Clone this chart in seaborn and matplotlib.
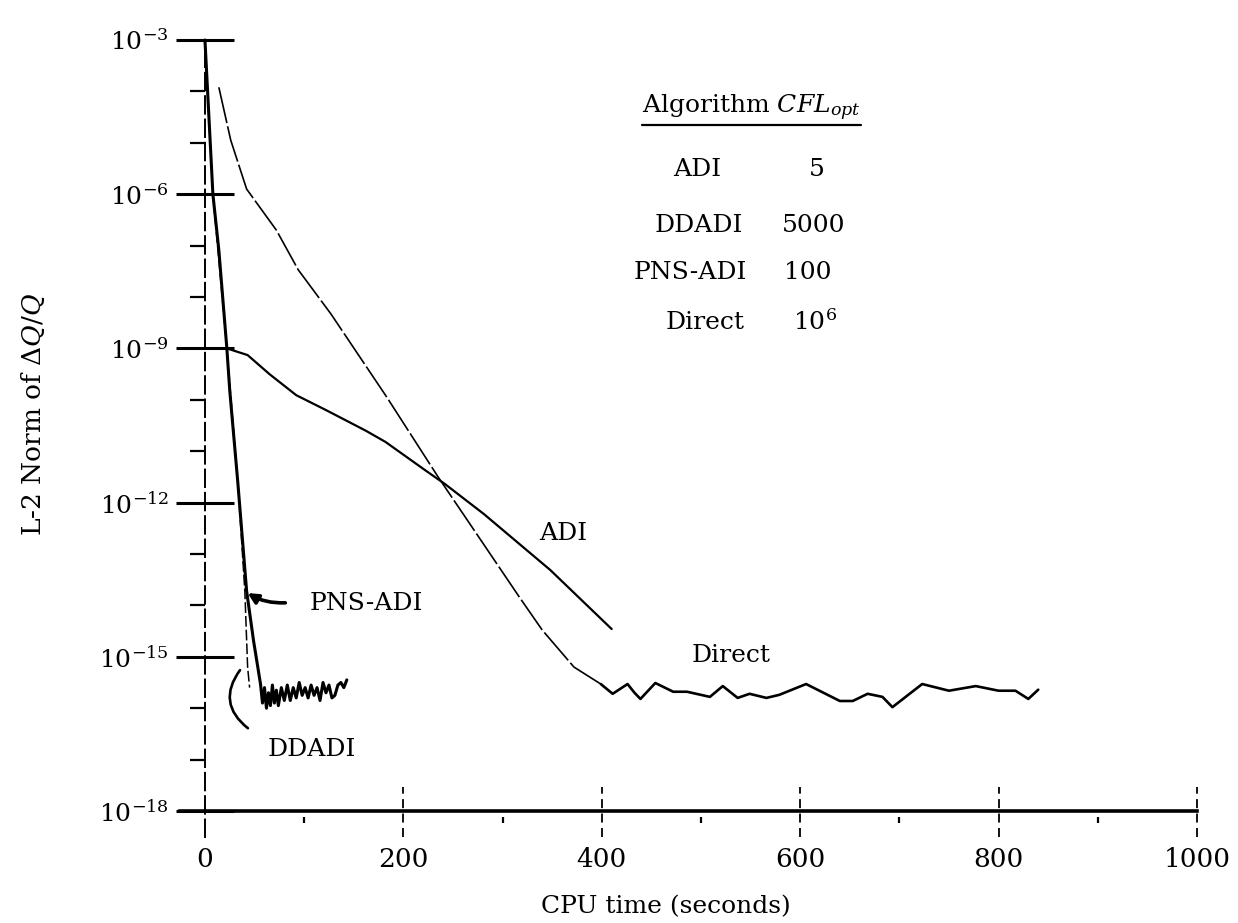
import numpy as np
import pandas as pd
import matplotlib
matplotlib.use("Agg")
import matplotlib.pyplot as plt
from matplotlib.ticker import FixedLocator, FixedFormatter, NullFormatter
import seaborn as sns

# ---- convergence histories: CPU time (s) and log10 of the L2 norm of dQ/Q ----
ADI_TIME = [0, 22, 43, 65, 92, 122, 162, 182, 222, 242, 281, 348, 410]
ADI_LOGRES = [-9.0, -9.0, -9.13, -9.5, -9.91, -10.2, -10.6, -10.82, -11.37,
              -11.64, -12.22, -13.31, -14.46]

DIRECT_TIME = [14, 26, 42, 72, 94, 127, 183, 235, 317, 340, 372, 399,
               411, 426, 433, 439, 454, 472, 486, 509, 522, 537, 549, 566,
               579, 606, 640, 653, 668, 683, 693, 723, 750, 777, 800, 817,
               830, 840]
DIRECT_LOGRES = [-3.92, -4.95, -5.9, -6.7, -7.47, -8.33, -9.94, -11.5, -13.84,
                 -14.48, -15.2, -15.53,
                 -15.72, -15.53, -15.7, -15.82, -15.51, -15.68, -15.68, -15.78,
                 -15.57, -15.8, -15.72, -15.8, -15.74, -15.53, -15.86, -15.86,
                 -15.72, -15.78, -15.98, -15.53, -15.66, -15.57, -15.66, -15.66,
                 -15.82, -15.64]
DIRECT_PLATEAU_START = 399

PNS_TIME = [0, 8, 14, 22, 25, 33, 42, 49, 56, 58, 60, 62, 64, 66, 68, 70, 72,
            74, 77, 80, 83, 86, 89, 92, 95, 98, 101, 104, 107, 110, 113, 116,
            119, 122, 125, 128, 131, 134, 137, 140, 143]
PNS_LOGRES = [-3.0, -6.0, -7.09, -8.98, -9.82, -11.58, -13.72, -14.69, -15.53,
              -15.9, -15.6, -16.0, -15.7, -15.95, -15.55, -15.9, -15.65, -15.95,
              -15.6, -15.85, -15.55, -15.85, -15.6, -15.8, -15.5, -15.75, -15.6,
              -15.8, -15.55, -15.75, -15.6, -15.85, -15.5, -15.7, -15.55, -15.8,
              -15.75, -15.55, -15.5, -15.6, -15.45]

DDADI_TIME = [0, 8, 22, 33, 34.5, 40.2, 43, 45]
DDADI_LOGRES = [-3.0, -6.0, -8.98, -11.58, -12.0, -13.72, -15.2, -15.6]

# ---- optimum CFL numbers ----
ALGORITHMS = ["ADI", "DDADI", "PNS-ADI", "Direct"]
CFL_OPT = ["5", "5000", "100", "$10^6$"]

# ---- axis ticks ----
XTICKS = [0, 200, 400, 600, 800, 1000]
XMINOR = [100, 300, 500, 700, 900]
YTICK_EXP = [-3, -6, -9, -12, -15, -18]
YMINOR_EXP = [-4, -5, -7, -8, -10, -11, -13, -14, -16, -17]


def frame(times, logres):
    return pd.DataFrame({"time": times, "res": 10.0 ** np.asarray(logres)})


adi = frame(ADI_TIME, ADI_LOGRES)
direct = frame(DIRECT_TIME, DIRECT_LOGRES)
pns = frame(PNS_TIME, PNS_LOGRES)
ddadi = frame(DDADI_TIME, DDADI_LOGRES)

sns.set_theme(style="white")
plt.rcParams["font.family"] = ["DejaVu Serif"]
plt.rcParams["mathtext.fontset"] = "dejavuserif"
plt.rcParams["text.color"] = "black"
plt.rcParams["axes.labelcolor"] = "black"
plt.rcParams["xtick.color"] = "black"
plt.rcParams["ytick.color"] = "black"

fig = plt.figure(figsize=(12.38, 9.23), dpi=100)
ax = fig.add_axes([100 / 1238, 73 / 923, 1130 / 1238, 830 / 923])
ax.set_yscale("log")

common = dict(ax=ax, color="black", estimator=None, sort=False, legend=False)
sns.lineplot(data=adi, x="time", y="res", lw=1.6, **common)
desc = direct[direct["time"] <= DIRECT_PLATEAU_START]
plat = direct[direct["time"] >= DIRECT_PLATEAU_START]
sns.lineplot(data=desc, x="time", y="res", lw=1.2,
             linestyle=(0, (22, 2)), **common)
sns.lineplot(data=plat, x="time", y="res", lw=1.9, **common)
sns.lineplot(data=pns, x="time", y="res", lw=2.2, **common)
sns.lineplot(data=ddadi, x="time", y="res", lw=1.1,
             linestyle=(0, (7, 2)), **common)

ax.set_xlim(-105.8, 1033.3)
ax.set_ylim(10 ** -18.759, 10 ** -2.611)

# axes frame: dashed vertical axis at t=0, solid base line at 1e-18
for side in ("top", "right"):
    ax.spines[side].set_visible(False)
ax.spines["left"].set_position(("data", 0))
ax.spines["left"].set_bounds(10 ** -18.5, 1e-3)
ax.spines["left"].set_linestyle((0, (9, 3)))
ax.spines["left"].set_linewidth(1.4)
ax.spines["left"].set_color("black")
ax.spines["bottom"].set_position(("data", 1e-18))
ax.spines["bottom"].set_bounds(-25, 1000)
ax.spines["bottom"].set_linewidth(2.6)
ax.spines["bottom"].set_color("black")

ax.yaxis.set_major_locator(FixedLocator(10.0 ** np.array(YTICK_EXP, float)))
ax.yaxis.set_major_formatter(FixedFormatter([f"$10^{{{e}}}$" for e in YTICK_EXP]))
ax.yaxis.set_minor_locator(FixedLocator(10.0 ** np.array(YMINOR_EXP, float)))
ax.yaxis.set_minor_formatter(NullFormatter())
ax.tick_params(axis="y", which="major", direction="inout", length=42, width=2.2,
               pad=5, labelsize=18, color="black", labelcolor="black", left=True)
ax.tick_params(axis="y", which="minor", direction="out", length=11, width=1.6,
               color="black", left=True)

ax.set_xticks(XTICKS)
ax.set_xticklabels([str(t) for t in XTICKS])
ax.tick_params(axis="x", which="both", length=0, pad=26, labelsize=19,
               labelcolor="black")
ax.vlines(XTICKS[1:], 10 ** -18.5, 10 ** -17.53, colors="black", lw=1.3,
          linestyles=[(0, (5, 3))])
ax.vlines(XMINOR, 10 ** -18.24, 10 ** -18.12, colors="black", lw=1.6)
ax.set_xlabel("")
ax.set_ylabel("")

fig.text(33 / 1238, 1 - 415 / 923, r"L-2 Norm of $\Delta Q/Q$", rotation=90,
         ha="center", va="center", fontsize=19, color="black")
fig.text(666 / 1238, 1 - 907 / 923, "CPU time (seconds)", ha="center",
         va="center", fontsize=18, color="black")

# curve labels
lab = dict(fontsize=18, ha="center", va="center", color="black")
ax.text(361, 10 ** -12.61, "ADI", **lab)
ax.text(163, 10 ** -13.97, "PNS-ADI", **lab)
ax.text(530, 10 ** -14.98, "Direct", **lab)
ax.text(108, 10 ** -16.81, "DDADI", **lab)

ax.annotate("", xy=(43, 10 ** -13.76), xytext=(81, 10 ** -13.95),
            arrowprops=dict(arrowstyle="-|>,head_length=0.5,head_width=0.25",
                            lw=2.6, color="black", shrinkA=0, shrinkB=0,
                            connectionstyle="arc3,rad=-0.15"))
ax.annotate("", xy=(43.3, 10 ** -16.39), xytext=(35.3, 10 ** -15.26),
            arrowprops=dict(arrowstyle="-", lw=1.9, color="black",
                            shrinkA=0, shrinkB=0,
                            connectionstyle="arc3,rad=0.48"))

# table of optimum CFL numbers
title = ax.text(551, 10 ** -4.32, r"Algorithm $CFL_{opt}$", fontsize=18,
                ha="center", va="center", color="black")
name_pos = [(496, -5.51), (498, -6.60), (489, -7.53), (504, -8.49)]
value_x = [617, 614, 608, 615]
for name, val, (nx, ne), vx in zip(ALGORITHMS, CFL_OPT, name_pos, value_x):
    ax.text(nx, 10 ** ne, name, fontsize=18, ha="center", va="center",
            color="black")
    ax.text(vx, 10 ** ne, val, fontsize=18, ha="center", va="center",
            color="black")

fig.canvas.draw()
bb = title.get_window_extent(fig.canvas.get_renderer())
inv = ax.transAxes.inverted()
(x0, y0), (x1, _) = inv.transform([(bb.x0, bb.y0 - 2), (bb.x1, bb.y0 - 2)])
ax.plot([x0, x1], [y0, y0], transform=ax.transAxes, color="black", lw=1.6,
        clip_on=False)

fig.savefig("out.png", dpi=100)
